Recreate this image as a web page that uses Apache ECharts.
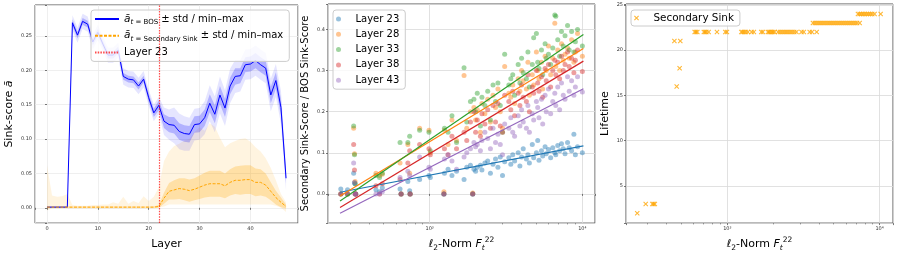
<!DOCTYPE html>
<html><head><meta charset="utf-8">
<script src="https://cdn.jsdelivr.net/npm/echarts@6.0.0/dist/echarts.min.js"></script>
<style>html,body{margin:0;padding:0;background:#fff}#c{width:897px;height:257px}</style>
</head><body><div id="c"></div>
<script>
// ---------- Panel 1: sink score per layer ----------
const layerIdx = [0,1,2,3,4,5,6,7,8,9,10,11,12,13,14,15,16,17,18,19,20,21,22,23,24,25,26,27,28,29,30,31,32,33,34,35,36,37,38,39,40,41,42,43,44,45,46,47];
const bosMean = [0.001,0.001,0.001,0.001,0.001,0.269,0.251,0.271,0.267,0.241,0.255,0.238,0.222,0.222,0.229,0.191,0.187,0.186,0.177,0.187,0.160,0.138,0.149,0.126,0.121,0.120,0.111,0.108,0.107,0.121,0.122,0.131,0.152,0.136,0.164,0.145,0.177,0.191,0.192,0.208,0.209,0.214,0.208,0.203,0.164,0.185,0.146,0.043];
const bosStd = [0.0005,0.0005,0.0005,0.0005,0.0005,0.005,0.005,0.005,0.005,0.005,0.005,0.005,0.005,0.005,0.005,0.005,0.005,0.005,0.005,0.005,0.006,0.006,0.007,0.010,0.011,0.012,0.012,0.012,0.012,0.012,0.012,0.012,0.013,0.013,0.013,0.013,0.012,0.012,0.011,0.011,0.011,0.011,0.011,0.011,0.012,0.012,0.012,0.008];
const bosRange = [0.001,0.001,0.001,0.001,0.001,0.011,0.011,0.011,0.011,0.011,0.011,0.011,0.011,0.011,0.011,0.012,0.012,0.012,0.012,0.012,0.012,0.012,0.012,0.020,0.022,0.026,0.026,0.025,0.024,0.023,0.023,0.024,0.026,0.026,0.027,0.026,0.025,0.024,0.023,0.022,0.022,0.022,0.022,0.022,0.024,0.024,0.024,0.018];
const secMean = [0.001,0.001,0.001,0.001,0.001,0.001,0.001,0.001,0.001,0.001,0.001,0.001,0.001,0.001,0.001,0.001,0.001,0.001,0.001,0.001,0.001,0.001,0.002,0.014,0.024,0.026,0.028,0.027,0.025,0.027,0.030,0.033,0.035,0.035,0.035,0.032,0.037,0.040,0.040,0.041,0.041,0.037,0.037,0.033,0.024,0.015,0.008,0.002];
const secStd = [0.001,0.001,0.001,0.001,0.001,0.001,0.001,0.001,0.001,0.001,0.001,0.001,0.001,0.001,0.001,0.001,0.001,0.001,0.001,0.001,0.001,0.001,0.002,0.008,0.012,0.014,0.015,0.016,0.016,0.016,0.017,0.018,0.019,0.019,0.019,0.018,0.019,0.020,0.021,0.021,0.021,0.020,0.019,0.017,0.013,0.010,0.007,0.003];
const secMax = [0.062,0.018,0.016,0.017,0.020,0.004,0.003,0.003,0.003,0.004,0.004,0.005,0.005,0.008,0.006,0.016,0.006,0.010,0.007,0.017,0.010,0.016,0.030,0.068,0.082,0.090,0.093,0.098,0.100,0.110,0.117,0.112,0.123,0.118,0.102,0.088,0.094,0.097,0.100,0.101,0.096,0.088,0.082,0.072,0.058,0.040,0.020,0.008];
const secMin = [-0.004,-0.001,-0.001,-0.001,-0.001,-0.001,-0.001,-0.001,-0.001,-0.001,-0.001,-0.001,-0.001,-0.001,-0.001,-0.001,-0.001,-0.001,-0.001,-0.001,-0.001,-0.001,0.000,0.002,0.005,0.005,0.005,0.005,0.005,0.005,0.005,0.005,0.005,0.005,0.005,0.005,0.005,0.005,0.005,0.005,0.005,0.005,0.005,0.005,0.005,0.003,0.000,-0.006];
const secondaryLayer = 22;
const layerTicks = [0,10,20,30,40];

// ---------- Panel 2: secondary / BOS score vs norm ----------
const normX = [262,290,318,322,325,328,445,470,490,640,650,720,740,745,860,990,1010,1240,1250,1320,1400,1500,1680,1750,1850,1915,1950,2000,2050,2150,2200,2300,2400,2500,2600,2700,2800,2900,3000,3100,3300,3400,3500,3600,3800,3900,4000,4100,4300,4400,4500,4700,4800,5000,5100,5200,5400,5500,5700,5800,6000,6200,6400,6600,6700,6900,7100,7300,7500,7700,8000,8200,8500,8800,9000,9300,10000];
const score23 = [0.012,0.010,0.050,0.028,0.025,0,0.010,0.005,0.015,0.012,0,0.030,0.008,0,0.035,0.045,0.040,0,0.050,0.060,0.045,0.055,0.035,0.065,0.070,0,0.060,0.055,0.065,0.070,0.058,0.075,0.080,0.050,0.072,0.085,0.065,0.090,0.045,0.078,0.088,0.072,0.095,0.080,0.100,0.068,0.090,0.110,0.085,0.095,0.075,0.120,0.088,0.100,0.130,0.082,0.105,0.092,0.115,0.098,0.108,0.088,0.112,0.100,0.095,0.118,0.105,0.122,0.110,0.098,0.125,0.112,0.105,0.145,0.095,0.115,0.100];
const score28 = [0,0,0.160,0.098,0.030,0,0.050,0.045,0.048,0.075,0,0.120,0.050,0,0.160,0.155,0.100,0.005,0.155,0.120,0.180,0.130,0.288,0.160,0.200,0.002,0.210,0.180,0.205,0.150,0.220,0.195,0.230,0.175,0.240,0.210,0.255,0.200,0.160,0.310,0.245,0.235,0.265,0.220,0.280,0.250,0.300,0.275,0.255,0.320,0.240,0.290,0.265,0.345,0.300,0.280,0.320,0.255,0.335,0.300,0.360,0.290,0.330,0.415,0.310,0.350,0.300,0.365,0.325,0.340,0.355,0.330,0.375,0.320,0.345,0.390,0.335];
const score33 = [0,0,0.165,0.095,0.025,0,0.045,0.040,0.050,0.125,0,0.125,0.140,0,0.155,0.150,0.105,0,0.160,0.150,0.190,0.125,0.307,0.175,0.225,0,0.230,0.200,0.245,0.165,0.235,0.215,0.250,0.180,0.265,0.225,0.270,0.215,0.150,0.340,0.265,0.280,0.290,0.240,0.315,0.270,0.330,0.295,0.280,0.345,0.260,0.315,0.380,0.390,0.320,0.305,0.350,0.290,0.365,0.330,0.340,0.315,0.355,0.435,0.432,0.375,0.335,0.395,0.360,0.385,0.410,0.350,0.395,0.345,0.370,0.400,0.360];
const score38 = [0,0,0.120,0.058,0,0,0.020,0,0.025,0.035,0,0.075,0.105,0,0.120,0.110,0.095,0,0.110,0.095,0.140,0.110,0.150,0.130,0.175,0,0.200,0.150,0.180,0.140,0.195,0.170,0.205,0.160,0.215,0.175,0.220,0.165,0.150,0.240,0.225,0.205,0.250,0.190,0.245,0.215,0.265,0.235,0.225,0.290,0.200,0.260,0.245,0.300,0.270,0.250,0.285,0.235,0.305,0.275,0.315,0.260,0.300,0.325,0.290,0.320,0.280,0.335,0.300,0.315,0.345,0.310,0.330,0.295,0.325,0.350,0.298];
const score43 = [0,0,0.075,0.027,0,0,0,0,0.005,0.040,0,0.055,0.045,0,0.090,0.065,0.060,0,0.085,0.095,0.080,0.060,0.090,0.100,0.110,0,0.125,0.115,0.120,0.105,0.130,0.150,0.135,0.110,0.160,0.125,0.145,0.120,0.095,0.170,0.160,0.185,0.150,0.140,0.190,0.165,0.205,0.175,0.160,0.215,0.150,0.195,0.180,0.225,0.210,0.185,0.230,0.170,0.240,0.200,0.255,0.195,0.225,0.245,0.215,0.260,0.205,0.270,0.240,0.230,0.285,0.250,0.275,0.240,0.260,0.285,0.248];
const fitX = [259, 10160];
const fit23 = [0.004, 0.117];
const fit28 = [-0.005, 0.354];
const fit33 = [-0.017, 0.388];
const fit38 = [-0.033, 0.323];
const fit43 = [-0.047, 0.256];
const layerNames = ['Layer 23','Layer 28','Layer 33','Layer 38','Layer 43'];
const minorTickVals = [300,400,500,600,700,800,900,2000,3000,4000,5000,6000,7000,8000,9000];

// ---------- Panel 3: lifetime vs norm ----------
const lifeX = [256,291,322,328,334,449,491,465,486,610,622,635,701,715,728,754,855,970,994,1236,1260,1290,1320,1365,1443,1494,1671,1711,1846,1880,1920,1960,2000,2042,2153,2220,2290,2360,2430,2500,2580,2660,2750,2845,3070,3178,3475,3597,3863,3650,3760,3880,4000,4120,4250,4380,4520,4660,4800,4950,5100,5260,5420,5590,5760,5940,6120,6310,6500,6700,6910,7120,7400,7210,7400,7600,7800,8000,8230,8460,8700,8950,9270,10160];
const lifeY = [2,3,3,3,3,21,21,16,18,22,22,22,22,22,22,22,22,22,22,22,22,22,22,22,22,22,22,22,22,22,22,22,22,22,22,22,22,22,22,22,22,22,22,22,22,22,22,22,22,23,23,23,23,23,23,23,23,23,23,23,23,23,23,23,23,23,23,23,23,23,23,23,23,24,24,24,24,24,24,24,24,24,24,24];

// ---------- styling ----------
const FONT = 'DejaVu Sans';
const tab10 = ['#1f77b4','#ff7f0e','#2ca02c','#d62728','#9467bd'];
const xPath = 'path://M0,1.5L1.5,0L5,3.5L8.5,0L10,1.5L6.5,5L10,8.5L8.5,10L5,6.5L1.5,10L0,8.5L3.5,5Z';
const sup = {3:'\u00b3', 4:'\u2074'};

function isMult(v, step) { return Math.abs(v / step - Math.round(v / step)) < 1e-6; }
function logLabel(v) { const e = Math.log10(v); const r = Math.round(e); return Math.abs(e - r) < 1e-6 ? '10' + (sup[r] || r) : ''; }

const tickLabel = { fontSize: 5, color: '#333', fontFamily: FONT, margin: 3 };
const tick = { show: true, length: 2, lineStyle: { color: '#555', width: 0.8 } };
const richName = {
  i: { fontStyle: 'italic', fontSize: 11, fontFamily: FONT },
  sub: { fontSize: 7.5, fontFamily: FONT, verticalAlign: 'bottom', lineHeight: 9 },
  subi: { fontSize: 7.5, fontFamily: FONT, fontStyle: 'italic', verticalAlign: 'bottom', lineHeight: 9 },
  sup: { fontSize: 7.5, fontFamily: FONT, verticalAlign: 'top', lineHeight: 9 }
};
const nameStyle = { fontSize: 11, fontFamily: FONT, color: '#000', lineHeight: 16, rich: richName };
const normName = '{i|\u2113}{sub|2}-Norm {i|F}{subi|t}{sup|22}';

function bandSeries(lo, hi, color, z) {
  return {
    type: 'custom', xAxisIndex: 0, yAxisIndex: 0, coordinateSystem: 'cartesian2d', silent: true, z: z,
    data: [[layerIdx[0], lo[0]]],
    renderItem: function (params, api) {
      const pts = [];
      for (let i = 0; i < layerIdx.length; i++) pts.push(api.coord([layerIdx[i], hi[i]]));
      for (let i = layerIdx.length - 1; i >= 0; i--) pts.push(api.coord([layerIdx[i], lo[i]]));
      return { type: 'polygon', shape: { points: pts }, style: { fill: color } };
    }
  };
}

const bosStdLo = bosMean.map((m, i) => m - bosStd[i]);
const bosStdHi = bosMean.map((m, i) => m + bosStd[i]);
const bosMinLo = bosMean.map((m, i) => m - bosRange[i]);
const bosMaxHi = bosMean.map((m, i) => m + bosRange[i]);
const secStdLo = secMean.map((m, i) => m - secStd[i]);
const secStdHi = secMean.map((m, i) => m + secStd[i]);

const scoreSets = [score23, score28, score33, score38, score43];
const fitSets = [fit23, fit28, fit33, fit38, fit43];
const RED = '#ff0000';

const series = [
  bandSeries(secMin, secMax, 'rgba(255,165,0,0.12)', 1),
  bandSeries(secStdLo, secStdHi, 'rgba(255,165,0,0.26)', 1),
  bandSeries(bosMinLo, bosMaxHi, 'rgba(0,0,255,0.10)', 1),
  bandSeries(bosStdLo, bosStdHi, 'rgba(0,0,255,0.22)', 1),
  { name: 'bos', type: 'line', color: '#0000ff', xAxisIndex: 0, yAxisIndex: 0, symbol: 'none', z: 3,
    data: layerIdx.map((l, i) => [l, bosMean[i]]), lineStyle: { color: '#0000ff', width: 1 }, itemStyle: { color: '#0000ff', opacity: 0 } },
  { name: 'sec', type: 'line', color: '#ffa500', xAxisIndex: 0, yAxisIndex: 0, symbol: 'none', z: 3,
    data: layerIdx.map((l, i) => [l, secMean[i]]), lineStyle: { color: '#ffa500', width: 1, type: [3, 1.5] }, itemStyle: { color: '#ffa500', opacity: 0 } },
  { name: 'marker23', type: 'line', color: RED, xAxisIndex: 0, yAxisIndex: 0, symbol: 'none', z: 4, data: [],
    lineStyle: { color: RED, opacity: 0.7, width: 1.2, type: [1.5, 1.2] }, itemStyle: { color: RED, opacity: 0 },
    markLine: { symbol: ['none', 'none'], silent: true, label: { show: false }, animation: false,
      lineStyle: { color: RED, opacity: 0.7, width: 1.2, type: [1.5, 1.2] },
      data: [{ xAxis: secondaryLayer }] } }
];
scoreSets.forEach((ys, k) => {
  series.push({ name: layerNames[k], type: 'scatter', color: tab10[k], xAxisIndex: 1, yAxisIndex: 1, symbol: 'circle', symbolSize: 5, z: 2,
    itemStyle: { color: tab10[k], opacity: 0.45 }, data: normX.map((x, i) => [x, ys[i]]) });
});
fitSets.forEach((fy, k) => {
  series.push({ name: 'fit' + k, type: 'line', color: tab10[k], xAxisIndex: 1, yAxisIndex: 1, symbol: 'none', z: 5,
    lineStyle: { color: tab10[k], width: 1.2 }, data: fitX.map((x, i) => [x, fy[i]]) });
});
series.push({ name: 'Secondary Sink', type: 'scatter', color: '#ffa500', xAxisIndex: 2, yAxisIndex: 2, symbol: xPath, symbolSize: 5, z: 3,
  itemStyle: { color: '#ffa500' }, data: lifeX.map((x, i) => [x, lifeY[i]]) });

const legendBase = {
  orient: 'vertical', selectedMode: false, backgroundColor: 'rgba(255,255,255,0.8)', borderColor: '#cccccc',
  borderWidth: 1, borderRadius: 3
};
const legendText = {
  bos: '{i|\u0101}{subi|t}{sub| = BOS} \u00b1 std / min\u2013max',
  sec: '{i|\u0101}{subi|t}{sub| = Secondary Sink} \u00b1 std / min\u2013max',
  marker23: 'Layer 23'
};

function gridSplit(color) { return { show: true, lineStyle: { color: color, width: 0.8 } }; }

const option = {
  animation: false,
  backgroundColor: '#fff',
  textStyle: { fontFamily: FONT },
  grid: [
    { left: 32, top: 5, width: 266, height: 224, show: true, borderColor: '#555', borderWidth: 1, backgroundColor: 'transparent' },
    { left: 328, top: 4, width: 267, height: 225, show: true, borderColor: '#555', borderWidth: 1, backgroundColor: 'transparent' },
    { left: 626, top: 4, width: 267, height: 225, show: true, borderColor: '#555', borderWidth: 1, backgroundColor: 'transparent' }
  ],
  xAxis: [
    { gridIndex: 0, type: 'value', min: -2.35, max: 49.35, splitNumber: 5,
      axisLine: { show: false }, axisTick: tick, splitLine: gridSplit('#ebebeb'),
      axisLabel: Object.assign({}, tickLabel, { formatter: v => layerTicks.includes(Math.round(v)) && isMult(v, 10) ? String(Math.round(v)) : '' }),
      name: 'Layer', nameLocation: 'middle', nameGap: 9, nameTextStyle: nameStyle },
    { gridIndex: 1, type: 'log', logBase: 10, min: 216, max: 12100,
      axisLine: { show: false }, axisTick: tick, splitLine: gridSplit('#d9d9d9'),
      axisLabel: Object.assign({}, tickLabel, { formatter: logLabel }),
      name: normName, nameLocation: 'middle', nameGap: 8, nameTextStyle: nameStyle },
    { gridIndex: 2, type: 'log', logBase: 10, min: 216, max: 12250,
      axisLine: { show: false }, axisTick: tick, splitLine: gridSplit('#d9d9d9'),
      axisLabel: Object.assign({}, tickLabel, { formatter: logLabel }),
      name: normName, nameLocation: 'middle', nameGap: 8, nameTextStyle: nameStyle },
    { gridIndex: 1, type: 'log', logBase: 10, min: 216, max: 12100, position: 'bottom',
      axisLine: { show: false }, splitLine: { show: false }, axisLabel: { show: false },
      axisTick: { show: true, length: 1.3, customValues: minorTickVals, lineStyle: { color: '#555', width: 0.6 } } },
    { gridIndex: 2, type: 'log', logBase: 10, min: 216, max: 12250, position: 'bottom',
      axisLine: { show: false }, splitLine: { show: false }, axisLabel: { show: false },
      axisTick: { show: true, length: 1.3, customValues: minorTickVals, lineStyle: { color: '#555', width: 0.6 } } }
  ],
  yAxis: [
    { gridIndex: 0, type: 'value', min: -0.0222, max: 0.2948, splitNumber: 6,
      axisLine: { show: false }, axisTick: tick, splitLine: gridSplit('#ebebeb'),
      axisLabel: Object.assign({}, tickLabel, { formatter: v => isMult(v, 0.05) ? v.toFixed(2) : '' }),
      name: 'Sink-score {i|\u0101}', nameLocation: 'middle', nameGap: 17, nameTextStyle: nameStyle },
    { gridIndex: 1, type: 'value', min: -0.071, max: 0.462, splitNumber: 5,
      axisLine: { show: false }, axisTick: tick, splitLine: gridSplit('#d9d9d9'),
      axisLabel: Object.assign({}, tickLabel, { formatter: v => isMult(v, 0.1) ? v.toFixed(1) : '' }),
      name: 'Secondary Sink-Score / BOS Sink-Score', nameLocation: 'middle', nameGap: 12,
      nameTextStyle: Object.assign({}, nameStyle, { fontSize: 10 }) },
    { gridIndex: 2, type: 'value', min: 0.9, max: 25.1, splitNumber: 5,
      axisLine: { show: false }, axisTick: tick, splitLine: gridSplit('#d9d9d9'),
      axisLabel: Object.assign({}, tickLabel, { formatter: v => isMult(v, 5) ? String(Math.round(v)) : '' }),
      name: 'Lifetime', nameLocation: 'middle', nameGap: 12, nameTextStyle: nameStyle }
  ],
  legend: [
    Object.assign({}, legendBase, {
      left: 91, top: 10, padding: [2, 6, 2, 3], itemWidth: 24, itemHeight: 2, itemGap: 2.7,
      data: ['bos', 'sec', 'marker23'], formatter: n => legendText[n],
      textStyle: { fontFamily: FONT, fontSize: 10, lineHeight: 14, color: '#000',
        rich: {
          i: { fontStyle: 'italic', fontSize: 10.5, fontFamily: FONT, lineHeight: 14 },
          sub: { fontSize: 7, fontFamily: FONT, verticalAlign: 'bottom', lineHeight: 9 },
          subi: { fontSize: 7, fontStyle: 'italic', fontFamily: FONT, verticalAlign: 'bottom', lineHeight: 9 }
        } }
    }),
    Object.assign({}, legendBase, {
      left: 333, top: 10, padding: [3, 6, 3, 3], itemWidth: 24, itemHeight: 5, itemGap: 3.3,
      data: layerNames, textStyle: { fontFamily: FONT, fontSize: 10, lineHeight: 12, color: '#000' }
    }),
    Object.assign({}, legendBase, {
      left: 631, top: 10, padding: [2, 6, 2, 3], itemWidth: 24, itemHeight: 5, itemGap: 3,
      data: [{ name: 'Secondary Sink', icon: xPath }], symbolKeepAspect: true,
      textStyle: { fontFamily: FONT, fontSize: 10.4, lineHeight: 12, color: '#000' }
    })
  ],
  series: series
};

const chart = echarts.init(document.getElementById('c'), null, { renderer: 'canvas' });
chart.setOption(option);
</script>
</body></html>
